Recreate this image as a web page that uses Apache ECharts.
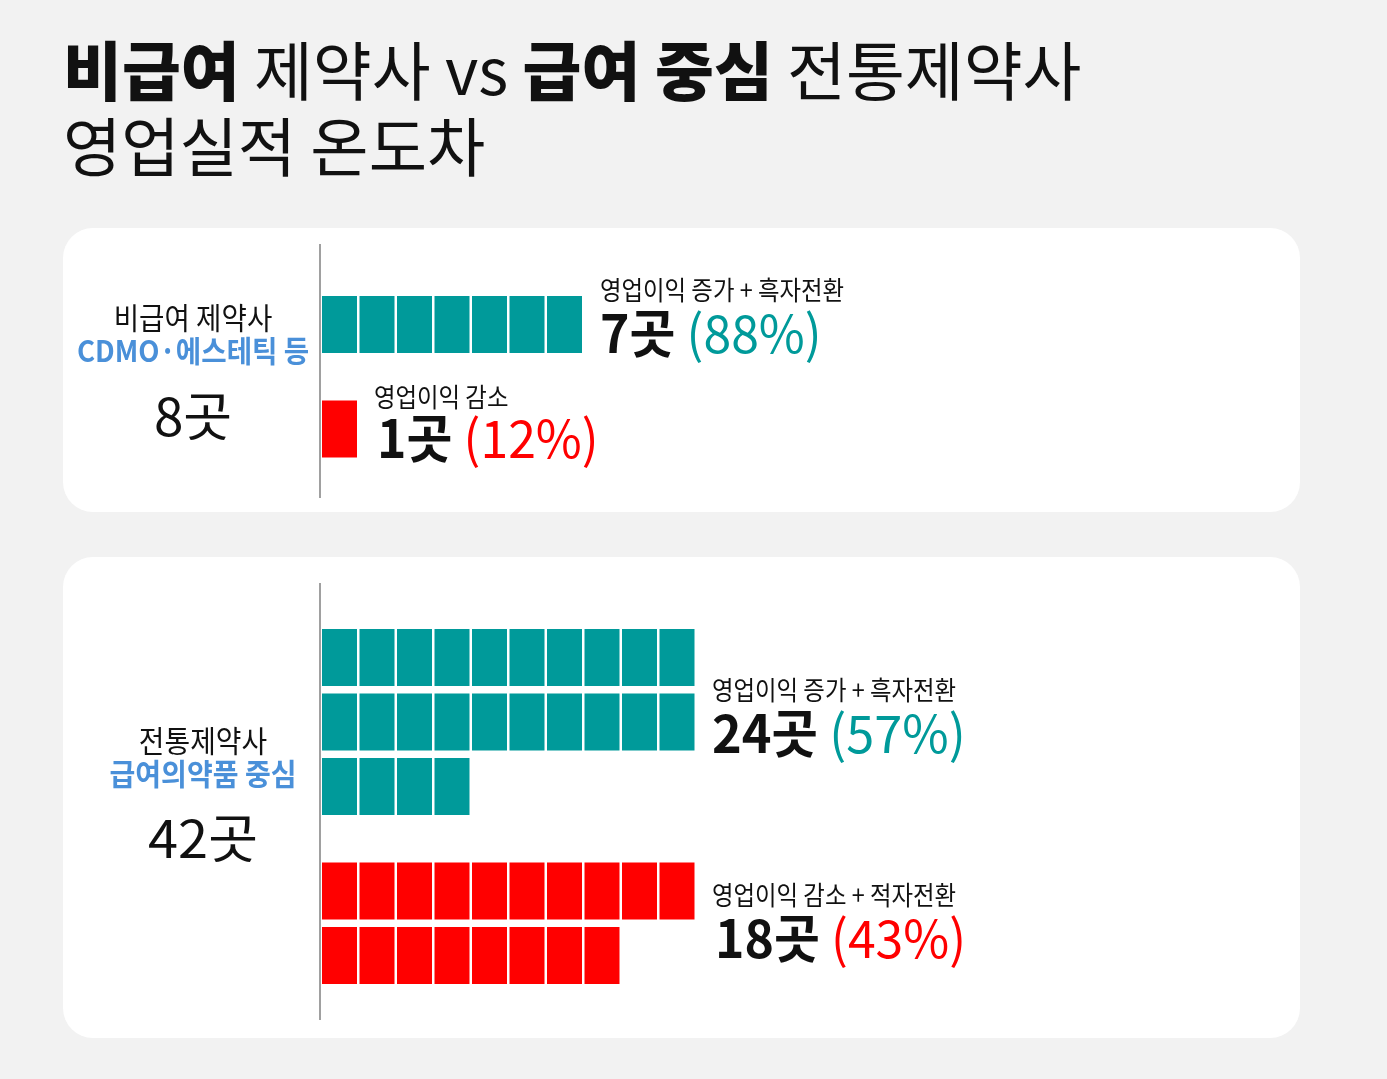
<!DOCTYPE html>
<html>
<head>
<meta charset="utf-8">
<script src="https://cdn.jsdelivr.net/npm/echarts@6/dist/echarts.min.js"></script>
<style>
  html, body { margin: 0; padding: 0; background: #f2f2f2; }
  #main { width: 1387px; height: 1079px; }
</style>
</head>
<body>
<div id="main"></div>
<script>
// 데이터
var groupNames = ['비급여 제약사', '전통제약사'];
var groupSubs = ['CDMO·에스테틱 등', '급여의약품 중심'];
var totals = [8, 42];
var upCounts = [7, 24];
var upShares = [88, 57];
var downCounts = [1, 18];
var downShares = [12, 43];
var upLabel = '영업이익 증가 + 흑자전환';
var downLabels = ['영업이익 감소', '영업이익 감소 + 적자전환'];

var TEAL = '#009a9a';
var RED = '#ff0000';
var BLUE = '#4a90d9';
var FONT = '"Noto Sans CJK KR", "Noto Sans", sans-serif';

var PER_ROW = 10;
var GAP_ROWS = 0.62;   // 두 그룹 사이 여백(행 단위)
var CELL_H = 0.884;    // 행 높이 대비 칸 높이
var ROW_PX = 64.5;
var CELL_GAP = 2.5;

function cells(count, startRow) {
  var out = [];
  for (var k = 0; k < count; k++) {
    out.push([k % PER_ROW, startRow + Math.floor(k / PER_ROW)]);
  }
  return out;
}

function renderCell(params, api) {
  var p = api.coord([api.value(0), api.value(1)]);
  var s = api.size([1, 1]);
  return {
    type: 'rect',
    shape: { x: p[0], y: p[1], width: s[0] - CELL_GAP, height: s[1] * CELL_H },
    style: { fill: api.visual('color') }
  };
}

var gridTops = [296, 629];
var grids = [], xAxes = [], yAxes = [], series = [];
for (var g = 0; g < 2; g++) {
  var upRows = Math.ceil(upCounts[g] / PER_ROW);
  var downStart = upRows + GAP_ROWS;
  var downRows = Math.ceil(downCounts[g] / PER_ROW);
  var yMax = downStart + downRows - 1 + CELL_H;
  grids.push({ left: 322, top: gridTops[g], width: 375, height: yMax * ROW_PX });
  xAxes.push({ type: 'value', gridIndex: g, min: 0, max: PER_ROW, show: false });
  yAxes.push({ type: 'value', gridIndex: g, min: 0, max: yMax, inverse: true, show: false });
  series.push({
    type: 'custom', xAxisIndex: g, yAxisIndex: g, z: 10,
    itemStyle: { color: TEAL }, renderItem: renderCell,
    data: cells(upCounts[g], 0)
  });
  series.push({
    type: 'custom', xAxisIndex: g, yAxisIndex: g, z: 10,
    itemStyle: { color: RED }, renderItem: renderCell,
    data: cells(downCounts[g], downStart)
  });
}

function txt(x, y, text, font, fill, align, sx, rich) {
  var el = {
    type: 'text', x: x, y: y, scaleX: sx || 1, z: 20,
    style: {
      text: text, x: 0, y: 0, font: font, fill: fill || '#111',
      textAlign: align || 'left', textVerticalAlign: 'middle'
    }
  };
  if (rich) el.style.rich = rich;
  return el;
}

function countRich(color) {
  return {
    n: { font: 'bold 52px ' + FONT, fill: '#111' },
    p: { font: '52px ' + FONT, fill: color }
  };
}

var graphics = [
  { type: 'rect', z: 1, shape: { x: 63, y: 228, width: 1237, height: 284, r: 30 }, style: { fill: '#fff' } },
  { type: 'rect', z: 1, shape: { x: 63, y: 557, width: 1237, height: 481, r: 30 }, style: { fill: '#fff' } },
  { type: 'line', z: 2, shape: { x1: 320, y1: 244, x2: 320, y2: 498 }, style: { stroke: '#a0a0a0', lineWidth: 2 } },
  { type: 'line', z: 2, shape: { x1: 320, y1: 583, x2: 320, y2: 1020 }, style: { stroke: '#a0a0a0', lineWidth: 2 } },

  txt(63, 71, '{b|비급여} {r|제약사 vs} {b|급여 중심} {r|전통제약사}', '64px ' + FONT, '#111', 'left', 1.0, {
    b: { font: '900 64px ' + FONT, fill: '#111' },
    r: { font: '64px ' + FONT, fill: '#111' }
  }),
  txt(63, 147, '영업실적 온도차', '64px ' + FONT, '#111', 'left', 0.99),

  txt(193, 318, groupNames[0], '30px ' + FONT, '#111', 'center', 0.92),
  txt(193, 351, groupSubs[0], 'bold 30px ' + FONT, BLUE, 'center', 0.92),
  txt(193, 416, totals[0] + '곳', '52px ' + FONT, '#111', 'center', 1.02),

  txt(203, 741, groupNames[1], '30px ' + FONT, '#111', 'center', 0.93),
  txt(203, 774, groupSubs[1], 'bold 30px ' + FONT, BLUE, 'center', 0.935),
  txt(203, 838, totals[1] + '곳', '52px ' + FONT, '#111', 'center', 1.04),

  txt(600, 290, upLabel, '26px ' + FONT, '#111', 'left', 0.9),
  txt(600, 333, '{n|' + upCounts[0] + '곳} {p|(' + upShares[0] + '%)}', '52px ' + FONT, '#111', 'left', 0.96, countRich(TEAL)),
  txt(374, 397, downLabels[0], '26px ' + FONT, '#111', 'left', 0.9),
  txt(377, 438, '{n|' + downCounts[0] + '곳} {p|(' + downShares[0] + '%)}', '52px ' + FONT, '#111', 'left', 0.96, countRich(RED)),

  txt(712, 690, upLabel, '26px ' + FONT, '#111', 'left', 0.9),
  txt(712, 733, '{n|' + upCounts[1] + '곳} {p|(' + upShares[1] + '%)}', '52px ' + FONT, '#111', 'left', 0.97, countRich(TEAL)),
  txt(712, 895, downLabels[1], '26px ' + FONT, '#111', 'left', 0.9),
  txt(715, 938, '{n|' + downCounts[1] + '곳} {p|(' + downShares[1] + '%)}', '52px ' + FONT, '#111', 'left', 0.96, countRich(RED))
];

var myChart = echarts.init(document.getElementById('main'));
var option = {
  backgroundColor: '#f2f2f2',
  animation: false,
  grid: grids,
  xAxis: xAxes,
  yAxis: yAxes,
  series: series,
  graphic: { elements: graphics }
};
myChart.setOption(option);
</script>
</body>
</html>
